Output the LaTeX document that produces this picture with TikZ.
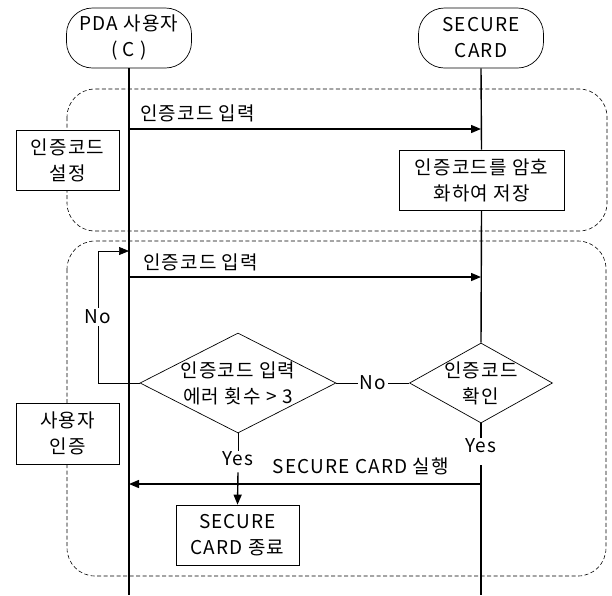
\documentclass[tikz,border=0pt]{standalone}
\usepackage{fontspec}
\setmainfont{Noto Sans CJK KR}[LetterSpace=6]
\usetikzlibrary{arrows.meta,shapes.geometric}
\tikzset{
  every node/.style={font=\fontsize{19}{26}\selectfont, align=center},
  actor/.style={draw, line width=0.7pt, rounded corners=26pt, minimum width=125pt, minimum height=60pt, inner sep=0pt},
  lifeline/.style={line width=1.4pt},
  phase/.style={draw, line width=0.6pt, dash pattern=on 4pt off 2.5pt, rounded corners=28pt},
  stepbox/.style={draw, fill=white, line width=0.7pt, inner sep=0pt},
  decision/.style={draw, diamond, line width=0.7pt, inner sep=0pt},
  msg/.style={line width=1.4pt, -{Triangle[length=10pt,width=8pt]}},
  thinline/.style={line width=0.7pt},
  loopline/.style={line width=0.7pt, -{Triangle[length=10pt,width=8pt]}},
  tag/.style={fill=white, inner sep=2pt}
}
\begin{document}
\begin{tikzpicture}[x=1pt,y=-1pt]
\useasboundingbox (0,0) rectangle (612,595);

% participants
\node[actor] (pda)  at (129,38) {PDA 사용자\\( C )};
\node[actor] (card) at (481,38) {SECURE\\CARD};

% phase frames
\draw[phase] (67,89) rectangle (607,231);
\draw[phase] (67,241) rectangle (606,576);

% lifeline ends and message anchors
\coordinate (pdaEnd)  at (129,595);
\coordinate (cardEnd) at (481,595);
\coordinate (m1s) at (129,129);
\coordinate (m1e) at (481,129);
\coordinate (m2s) at (129,277);
\coordinate (m2e) at (481,277);
\coordinate (m3s) at (481,484);
\coordinate (m3e) at (129,484);
\coordinate (loopL) at (98,383);
\coordinate (loopT) at (98,251);
\coordinate (loopE) at (129,251);
\coordinate (resume) at (481,465);

% phase captions
\node[stepbox, minimum width=103pt, minimum height=60pt] (setcap) at (67.5,160) {인증코드\\설정};
\node[stepbox, minimum width=103pt, minimum height=61pt] (authcap) at (67.5,433.5) {사용자\\인증};

% steps
\node[stepbox, minimum width=165pt, minimum height=60pt] (store) at (481.5,180) {인증코드를 암호\\화하여 저장};
\node[decision, minimum width=196pt, minimum height=100pt, label=center:{인증코드 입력\\에러 횟수 > 3}] (errs) at (238,383) {};
\node[decision, minimum width=143pt, minimum height=80pt, label=center:{인증코드\\확인}] (check) at (481,383) {};
\node[stepbox, minimum width=123pt, minimum height=60pt] (quit) at (237.5,535) {SECURE\\CARD 종료};

\node[inner sep=1pt] (yes1) at (238,459) {Yes};
\node[inner sep=1pt] (yes2) at (481,446) {Yes};

% lifelines
\draw[lifeline] (pda.south) -- (pdaEnd);
\draw[lifeline] (card.south) -- (store.north);
\draw[lifeline] (store.south) -- (check.north);
\draw[lifeline] (check.south) -- (yes2.north);
\draw[lifeline] (resume) -- (cardEnd);

% messages
\draw[msg] (m1s) -- (m1e);
\node[anchor=south west, inner sep=0pt] (lab1) at (140,122) {인증코드 입력};
\draw[msg] (m2s) -- (m2e);
\node[anchor=south west, inner sep=0pt] (lab2) at (143,271) {인증코드 입력};
\draw[msg] (m3s) -- (m3e);
\node (lab3) at (361,466) {SECURE CARD 실행};

% decision branches
\draw[thinline] (check.west) -- node[tag] {No} (errs.east);
\draw[loopline] (errs.west) -- (loopL) -- node[tag, pos=0.5] {No} (loopT) -- (loopE);
\draw[thinline] (errs.south) -- (yes1.north);
\draw[msg] (yes1.south) ++(0,5) -- (quit.north);
\end{tikzpicture}
\end{document}
